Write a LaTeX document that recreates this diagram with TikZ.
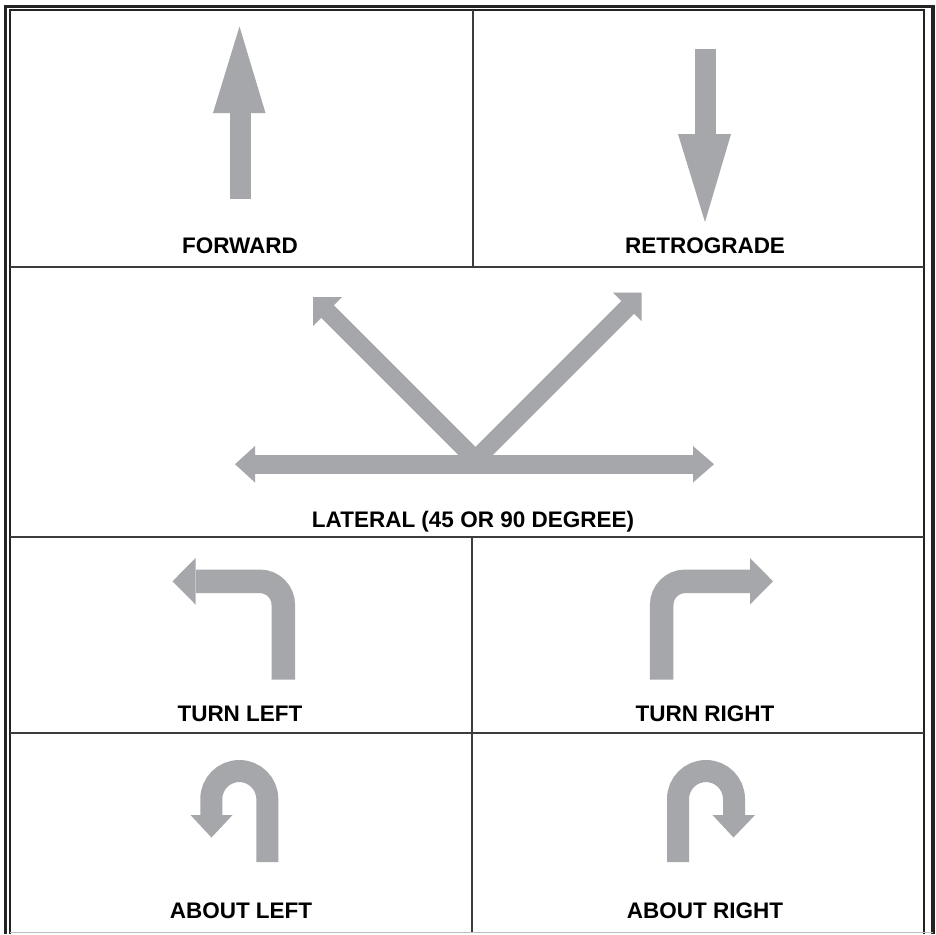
\documentclass[tikz,border=0pt]{standalone}
\usepackage{fontspec}
\setmainfont{Liberation Sans}
\definecolor{arrowgray}{RGB}{166,167,171}
\definecolor{gridgray}{RGB}{60,60,60}
\definecolor{framedark}{RGB}{35,35,35}
\begin{document}
\begin{tikzpicture}[x=0.5pt,y=-0.5pt,
  gridline/.style={draw=gridgray, line width=0.9pt},
  shaft/.style={draw=arrowgray, line cap=butt},
  headfill/.style={fill=arrowgray},
  lbl/.style={font=\fontsize{11.25}{13}\selectfont\bfseries, text=black, anchor=base, inner sep=0pt}]
\useasboundingbox (0,0) rectangle (936,934);
\fill[white] (0,0) rectangle (936,934);

% frame
\draw[line width=1.65pt, framedark] (5.7,934) -- (5.7,6.3) -- (933,6.3) -- (933,934);
\draw[line width=0.9pt, framedark] (10,934) -- (10,10) -- (924,10) -- (924,934);
\draw[line width=0.6pt, gray!50] (10,932.5) -- (933,932.5);

% grid
\draw[gridline] (10,267) -- (924,267);
\draw[gridline] (10,537) -- (924,537);
\draw[gridline] (10,733) -- (924,733);
\draw[gridline] (472.7,10) -- (472.7,267);
\draw[gridline] (472.3,537) -- (472.3,932);

% forward
\fill[headfill] (229.5,112) rectangle (250.5,198.5);
\fill[headfill] (213,113) -- (265.5,113) -- (239.5,26.5) -- cycle;
\node[lbl] (forward) at (240,253.5) {FORWARD};

% retrograde
\fill[headfill] (695,49) rectangle (716,136);
\fill[headfill] (678,134) -- (731,134) -- (705,222) -- cycle;
\node[lbl] (retro) at (705,253.5) {RETROGRADE};

% lateral
\draw[shaft, line width=9pt] (325,309) -- (482,466);
\fill[headfill] (313,297) -- (342,297) -- (313,326) -- cycle;
\draw[shaft, line width=9pt] (630,305) -- (470,465);
\fill[headfill] (641.7,292.7) -- (613,292.7) -- (641.7,321.4) -- cycle;
\fill[headfill] (254,455) rectangle (694,473.5);
\fill[headfill] (255,446) -- (235,464.2) -- (255,482.5) -- cycle;
\fill[headfill] (693,446) -- (714,464.2) -- (693,482.5) -- cycle;
\node[lbl] (lateral) at (473,527) {LATERAL (45 OR 90 DEGREE)};

% turn left
\draw[shaft, line width=11.75pt, rounded corners=11.75pt] (283.3,679.5) -- (283.3,581.3) -- (196,581.3);
\fill[headfill] (195.5,558) -- (195.5,604.5) -- (172.5,581.3) -- cycle;
\node[lbl] (tleft) at (240,721) {TURN LEFT};

% turn right
\draw[shaft, line width=11.75pt, rounded corners=11.75pt] (661.7,679.5) -- (661.7,581.3) -- (750.5,581.3);
\fill[headfill] (750,558) -- (750,604.5) -- (773,581.3) -- cycle;
\node[lbl] (tright) at (705,721) {TURN RIGHT};

% about left
\draw[shaft, line width=11pt] (267.3,862) -- (267.3,799) arc[start angle=0, end angle=-180, radius=28] -- (211.3,816);
\fill[headfill] (190.5,815) -- (232.5,815) -- (211.5,837.5) -- cycle;
\node[lbl] (aleft) at (241,918) {ABOUT LEFT};

% about right
\draw[shaft, line width=11pt] (678,862) -- (678,799) arc[start angle=180, end angle=360, radius=28] -- (734,816);
\fill[headfill] (712.5,815) -- (755,815) -- (733.5,837.5) -- cycle;
\node[lbl] (aright) at (705,918) {ABOUT RIGHT};
\end{tikzpicture}
\end{document}
